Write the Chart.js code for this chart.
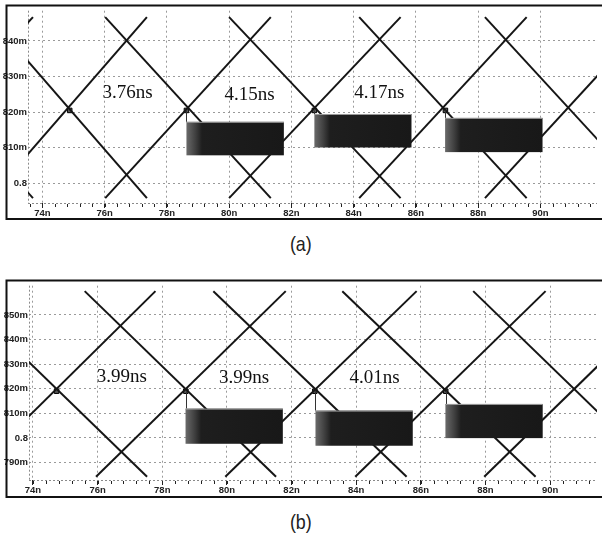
<!DOCTYPE html>
<html><head><meta charset="utf-8">
<script src="https://cdn.jsdelivr.net/npm/chart.js@4/dist/chart.umd.min.js"></script>
<style>
html,body{margin:0;padding:0;background:#fff;width:602px;height:547px;overflow:hidden;}
canvas{position:absolute;}
.cap{position:absolute;left:0;width:602px;text-align:center;font-family:'Liberation Sans',Arial,sans-serif;font-size:21px;color:#222;line-height:24px;}
.cap span{display:inline-block;transform:scaleX(0.85);}
</style></head><body>
<canvas id="ca" width="602" height="217" style="left:0px;top:4px"></canvas>
<div class="cap" style="top:232px"><span>(a)</span></div>
<canvas id="cb" width="602" height="220" style="left:0px;top:279px"></canvas>
<div class="cap" style="top:510px"><span>(b)</span></div>
<script>
// ---------- Panel (a) ----------
const aXTicks = [74, 76, 78, 80, 82, 84, 86, 88, 90];
const aYTicks = [800, 810, 820, 830, 840];
const aRiseStart = [68.38, 72.31, 76.02, 80.00, 84.18, 88.22];
const aRiseEnd   = [73.70, 77.36, 81.34, 85.51, 89.56, 93.57];
const aFallStart = [68.38, 72.31, 76.02, 80.00, 84.18, 88.22];
const aFallEnd   = [73.70, 77.36, 81.34, 85.51, 89.56, 93.57];
const aLow = 795.9, aHigh = 846.7;
const aMarkX = [74.88, 78.63, 82.74, 86.95];
const aMarkY = 820.5;
const aBoxX0 = [78.63, 82.74, 86.94];
const aBoxX1 = [81.76, 85.86, 90.07];
const aBoxLo = [807.9, 810.1, 808.8];
const aBoxHi = [817.3, 819.5, 818.4];
const aLabels = ['3.76ns', '4.15ns', '4.17ns'];
const aLabelX = [76.74, 80.66, 84.83];
const aLabelY = [825.3, 824.8, 825.3];

// ---------- Panel (b) ----------
const bXTicks = [74, 76, 78, 80, 82, 84, 86, 88, 90];
const bYTicks = [790, 800, 810, 820, 830, 840, 850];
const bRiseStart = [71.98, 75.95, 79.95, 83.97, 87.96];
const bRiseEnd   = [77.79, 81.82, 85.87, 89.86, 93.85];
const bFallStart = [71.61, 75.60, 79.58, 83.57, 87.62];
const bFallEnd   = [77.53, 81.52, 85.56, 89.55, 93.54];
const bLow = 784.2, bHigh = 859.7;
const bMarkX = [74.73, 78.73, 82.72, 86.77];
const bMarkY = 819.0;
const bBoxX0 = [78.72, 82.74, 86.76];
const bBoxX1 = [81.73, 85.75, 89.77];
const bBoxLo = [797.6, 796.8, 799.9];
const bBoxHi = [811.9, 811.1, 813.8];
const bLabels = ['3.99ns', '3.99ns', '4.01ns'];
const bLabelX = [76.75, 80.53, 84.57];
const bLabelY = [824.8, 824.4, 824.4];

const TICKFONT = {family: "'Liberation Sans',Arial,sans-serif", size: 9.5, weight: 'bold'};

function makePlugin(P) {
  return {
    id: 'panel_' + P.id,
    beforeDatasetsDraw(chart) {
      const {ctx, chartArea: ca, scales: {x, y}} = chart;
      ctx.save();
      ctx.strokeStyle = '#8a8a8a'; ctx.lineWidth = 1; ctx.setLineDash([2, 2]);
      ctx.beginPath();
      ctx.moveTo(ca.left + 0.5, ca.top); ctx.lineTo(ca.left + 0.5, ca.bottom);
      ctx.moveTo(ca.left, ca.bottom + 0.5); ctx.lineTo(ca.right, ca.bottom + 0.5);
      ctx.stroke();
      ctx.setLineDash([]);
      ctx.strokeStyle = '#222';
      ctx.beginPath();
      for (let k = 0; k < 60; k++) {
        const v = P.xTicks[0] - 2 + k * 0.4;
        const px = x.getPixelForValue(v);
        if (px < ca.left || px > ca.right) continue;
        ctx.moveTo(Math.round(px) + 0.5, ca.bottom + 1);
        ctx.lineTo(Math.round(px) + 0.5, ca.bottom + 4);
      }
      ctx.stroke();
      ctx.restore();
    },
    afterDatasetsDraw(chart) {
      const {ctx, chartArea: ca, scales: {x, y}} = chart;
      ctx.save();
      ctx.beginPath(); ctx.rect(ca.left, ca.top, ca.right - ca.left, ca.bottom - ca.top); ctx.clip();
      ctx.strokeStyle = '#333'; ctx.lineWidth = 1;
      P.boxX0.forEach((x0, i) => {
        const mx = x.getPixelForValue(P.markX[i + 1]);
        ctx.beginPath();
        ctx.moveTo(Math.round(mx) + 0.5, y.getPixelForValue(P.markY));
        ctx.lineTo(Math.round(mx) + 0.5, y.getPixelForValue(P.boxHi[i]));
        ctx.stroke();
      });
      P.boxX0.forEach((x0, i) => {
        const l = x.getPixelForValue(x0), r = x.getPixelForValue(P.boxX1[i]);
        const t = y.getPixelForValue(P.boxHi[i]), b = y.getPixelForValue(P.boxLo[i]);
        const g = ctx.createLinearGradient(l, 0, r, 0);
        g.addColorStop(0, '#6a6a6a');
        g.addColorStop(0.1, '#3c3c3c');
        g.addColorStop(0.16, '#1e1e1e');
        g.addColorStop(1, '#181818');
        ctx.fillStyle = g;
        ctx.fillRect(l, t, r - l, b - t);
        ctx.strokeStyle = '#9a9a9a'; ctx.lineWidth = 1;
        ctx.beginPath(); ctx.moveTo(l, t + 0.5); ctx.lineTo(r, t + 0.5); ctx.stroke();
      });
      ctx.fillStyle = '#111';
      ctx.font = "19px 'Liberation Serif','DejaVu Serif',serif";
      ctx.textAlign = 'center'; ctx.textBaseline = 'middle';
      P.labels.forEach((s, i) => {
        ctx.fillText(s, x.getPixelForValue(P.labelX[i]), y.getPixelForValue(P.labelY[i]));
      });
      ctx.restore();
    },
    afterDraw(chart) {
      const {ctx, width} = chart;
      ctx.save();
      ctx.strokeStyle = '#111'; ctx.lineWidth = 2;
      ctx.beginPath();
      ctx.moveTo(width + 2, 1.5); ctx.lineTo(6.5, 1.5); ctx.lineTo(6.5, P.frameBottom); ctx.lineTo(width + 2, P.frameBottom);
      ctx.stroke();
      ctx.restore();
    }
  };
}

function makePanel(P) {
  const datasets = [];
  P.riseStart.forEach((s, i) => datasets.push({
    data: [{x: s, y: P.low}, {x: P.riseEnd[i], y: P.high}],
    showLine: true, borderColor: '#151515', borderWidth: 2, pointRadius: 0, pointHoverRadius: 0
  }));
  P.fallStart.forEach((s, i) => datasets.push({
    data: [{x: s, y: P.high}, {x: P.fallEnd[i], y: P.low}],
    showLine: true, borderColor: '#151515', borderWidth: 2, pointRadius: 0, pointHoverRadius: 0
  }));
  datasets.push({
    data: P.markX.map(v => ({x: v, y: P.markY})),
    showLine: false, pointStyle: 'rect', pointRadius: 3.2,
    backgroundColor: '#555', borderColor: '#000', borderWidth: 1
  });
  new Chart(document.getElementById(P.id), {
    type: 'scatter',
    data: {datasets},
    plugins: [makePlugin(P)],
    options: {
      responsive: false, animation: false, devicePixelRatio: 1,
      layout: {padding: {left: 0, top: 2, right: 0, bottom: 2}},
      plugins: {legend: {display: false}, tooltip: {enabled: false}},
      scales: {
        x: {
          type: 'linear', min: P.xMin, max: P.xMax,
          afterFit: s => { s.height = P.xAxisH; },
          afterBuildTicks: s => { s.ticks = P.xTicks.map(v => ({value: v})); },
          ticks: {callback: v => v + 'n', font: TICKFONT, color: '#222', padding: 0, maxRotation: 0, autoSkip: false},
          grid: {color: '#9a9a9a', lineWidth: 1, tickLength: 5, tickColor: '#222', tickWidth: 1, tickBorderDash: []},
          border: {display: false, dash: [2, 3]}
        },
        y: {
          type: 'linear', min: P.yMin, max: P.yMax,
          afterFit: s => { s.width = P.yAxisW; },
          afterBuildTicks: s => { s.ticks = P.yTicks.map(v => ({value: v})); },
          ticks: {callback: v => (v === 800 ? '0.8' : v + 'm'), font: TICKFONT, color: '#222', padding: 1},
          grid: {color: '#9a9a9a', lineWidth: 1, drawTicks: false},
          border: {display: false, dash: [2, 3]}
        }
      }
    }
  });
}

makePanel({
  id: 'ca', xTicks: aXTicks, yTicks: aYTicks,
  riseStart: aRiseStart, riseEnd: aRiseEnd, fallStart: aFallStart, fallEnd: aFallEnd,
  low: aLow, high: aHigh, markX: aMarkX, markY: aMarkY,
  boxX0: aBoxX0, boxX1: aBoxX1, boxLo: aBoxLo, boxHi: aBoxHi,
  labels: aLabels, labelX: aLabelX, labelY: aLabelY,
  xMin: 73.54, xMax: 91.82, yMin: 794.52, yMax: 848.49,
  xAxisH: 16, yAxisW: 28, frameBottom: 215
});
makePanel({
  id: 'cb', xTicks: bXTicks, yTicks: bYTicks,
  riseStart: bRiseStart, riseEnd: bRiseEnd, fallStart: bFallStart, fallEnd: bFallEnd,
  low: bLow, high: bHigh, markX: bMarkX, markY: bMarkY,
  boxX0: bBoxX0, boxX1: bBoxX1, boxLo: bBoxLo, boxHi: bBoxHi,
  labels: bLabels, labelX: bLabelX, labelY: bLabelY,
  xMin: 73.877, xMax: 91.45, yMin: 782.86, yMax: 861.92,
  xAxisH: 17, yAxisW: 29, frameBottom: 218
});
</script>
</body></html>
